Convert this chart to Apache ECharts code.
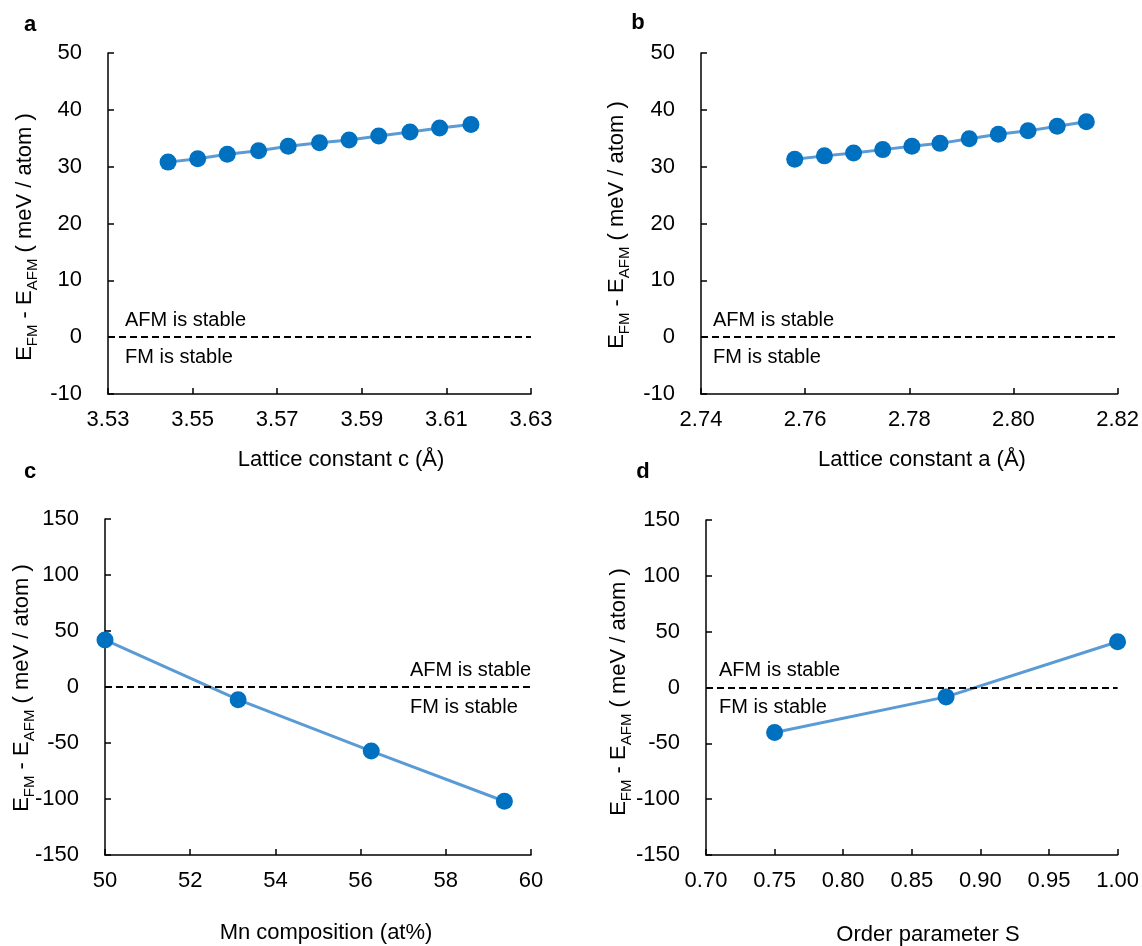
<!DOCTYPE html>
<html>
<head>
<meta charset="utf-8">
<script src="https://cdn.jsdelivr.net/npm/echarts@6/dist/echarts.min.js"></script>
<style>
html,body{margin:0;padding:0;background:#fff;}
#chart{width:1142px;height:946px;}
</style>
</head>
<body>
<div id="chart"></div>
<script>
// ---- data ----
const cA = [3.5442, 3.5512, 3.5582, 3.5656, 3.5726, 3.5800, 3.5870, 3.5940, 3.6014, 3.6084, 3.6158];
const eA = [30.8, 31.4, 32.2, 32.8, 33.6, 34.2, 34.7, 35.4, 36.1, 36.8, 37.4];
const aB = [2.7580, 2.7637, 2.7693, 2.7749, 2.7805, 2.7859, 2.7915, 2.7971, 2.8028, 2.8084, 2.8140];
const eB = [31.3, 31.9, 32.4, 33.0, 33.6, 34.1, 34.9, 35.7, 36.3, 37.1, 37.9];
const mnC = [50, 53.125, 56.25, 59.375];
const eC = [42.0, -11.3, -57.2, -102.0];
const sD = [0.75, 0.875, 1.0];
const eD = [-40.3, -8.4, 41.0];

const xTicksA = [3.53, 3.55, 3.57, 3.59, 3.61, 3.63];
const xTicksB = [2.74, 2.76, 2.78, 2.80, 2.82];
const xTicksC = [50, 52, 54, 56, 58, 60];
const xTicksD = [0.70, 0.75, 0.80, 0.85, 0.90, 0.95, 1.00];
const yTicksAB = [-10, 0, 10, 20, 30, 40, 50];
const yTicksCD = [-150, -100, -50, 0, 50, 100, 150];

const xTitles = ['Lattice constant c (Å)', 'Lattice constant a (Å)', 'Mn composition (at%)', 'Order parameter S'];
const panelLetters = ['a', 'b', 'c', 'd'];
const afmText = 'AFM is stable';
const fmText = 'FM is stable';

// ---- styling ----
const FONT = '"Liberation Sans", Arial, Helvetica, sans-serif';
const MARK = '#0070C0';
const LINE = '#5B9BD5';

const grids = [
  {left: 108, top: 53, width: 423, height: 341},
  {left: 701, top: 53, width: 421, height: 341},
  {left: 105, top: 519, width: 426, height: 336},
  {left: 706, top: 520, width: 415, height: 335}
];
const xDec = [2, 2, 0, 2];

function xAxisFor(i, ticks) {
  return {
    type: 'value', gridIndex: i,
    min: ticks[0], max: ticks[ticks.length - 1], interval: +(ticks[1] - ticks[0]).toFixed(6),
    axisLine: {show: true, onZero: false, lineStyle: {color: '#000', width: 1.5}},
    axisTick: {show: true, inside: true, length: 6, lineStyle: {color: '#000', width: 1.5}},
    axisLabel: {color: '#000', fontSize: 22, fontFamily: FONT, margin: 15,
      formatter: v => v.toFixed(xDec[i]), showMinLabel: true, showMaxLabel: true},
    splitLine: {show: false}
  };
}
function yAxisFor(i, ticks) {
  return {
    type: 'value', gridIndex: i,
    min: ticks[0], max: ticks[ticks.length - 1], interval: ticks[1] - ticks[0],
    axisLine: {show: true, onZero: false, lineStyle: {color: '#000', width: 1.5}},
    axisTick: {show: true, inside: true, length: 6, lineStyle: {color: '#000', width: 1.5}},
    axisLabel: {color: '#000', fontSize: 22, fontFamily: FONT, margin: 26},
    splitLine: {show: false}
  };
}
function seriesFor(i, xs, ys) {
  return {
    type: 'line', xAxisIndex: i, yAxisIndex: i,
    data: xs.map((x, k) => [x, ys[k]]),
    symbol: 'circle', symbolSize: 17, showSymbol: true,
    itemStyle: {color: MARK},
    lineStyle: {color: LINE, width: 3},
    emphasis: {disabled: true},
    markLine: {
      silent: true, symbol: 'none', animation: false,
      label: {show: false},
      lineStyle: {color: '#000', type: [7, 4], width: 2},
      data: [{yAxis: 0}]
    },
    z: 3
  };
}

function yTitle(x, y) {
  return {
    type: 'text', x: x, y: y, rotation: Math.PI / 2,
    style: {
      text: '{m|E}{s|FM}{m| - E}{s|AFM}{m| ( meV / atom )}',
      align: 'center', verticalAlign: 'middle', fill: '#000',
      rich: {
        m: {fontSize: 22, fontFamily: FONT, lineHeight: 30, fill: '#000'},
        s: {fontSize: 15, fontFamily: FONT, lineHeight: 15, verticalAlign: 'bottom', fill: '#000'}
      }
    }
  };
}
function txt(x, y, s, opts) {
  return {
    type: 'text', x: x, y: y,
    style: Object.assign({text: s, fill: '#000', font: '20px ' + FONT, align: 'left', verticalAlign: 'middle'}, opts || {})
  };
}

const graphics = [
  // panel letters
  txt(30, 25, panelLetters[0], {font: 'bold 22px ' + FONT, align: 'center'}),
  txt(638, 23, panelLetters[1], {font: 'bold 22px ' + FONT, align: 'center'}),
  txt(30, 472, panelLetters[2], {font: 'bold 22px ' + FONT, align: 'center'}),
  txt(643, 472, panelLetters[3], {font: 'bold 22px ' + FONT, align: 'center'}),
  // y titles
  yTitle(25, 237), yTitle(617, 225), yTitle(22, 688), yTitle(619, 692),
  // x titles
  txt(341, 460, xTitles[0], {font: '22px ' + FONT, align: 'center'}),
  txt(922, 460, xTitles[1], {font: '22px ' + FONT, align: 'center'}),
  txt(326, 933, xTitles[2], {font: '22px ' + FONT, align: 'center'}),
  txt(928, 935, xTitles[3], {font: '22px ' + FONT, align: 'center'}),
  // stability annotations
  txt(125, 320, afmText), txt(125, 357, fmText),
  txt(713, 320, afmText), txt(713, 357, fmText),
  txt(410, 670, afmText), txt(410, 707, fmText),
  txt(719, 670, afmText), txt(719, 707, fmText)
];

const chart = echarts.init(document.getElementById('chart'), null, {renderer: 'canvas'});
chart.setOption({
  animation: false,
  backgroundColor: '#fff',
  textStyle: {fontFamily: FONT},
  grid: grids.map(g => Object.assign({containLabel: false}, g)),
  xAxis: [xAxisFor(0, xTicksA), xAxisFor(1, xTicksB), xAxisFor(2, xTicksC), xAxisFor(3, xTicksD)],
  yAxis: [yAxisFor(0, yTicksAB), yAxisFor(1, yTicksAB), yAxisFor(2, yTicksCD), yAxisFor(3, yTicksCD)],
  series: [seriesFor(0, cA, eA), seriesFor(1, aB, eB), seriesFor(2, mnC, eC), seriesFor(3, sD, eD)],
  graphic: graphics
});
</script>
</body>
</html>
